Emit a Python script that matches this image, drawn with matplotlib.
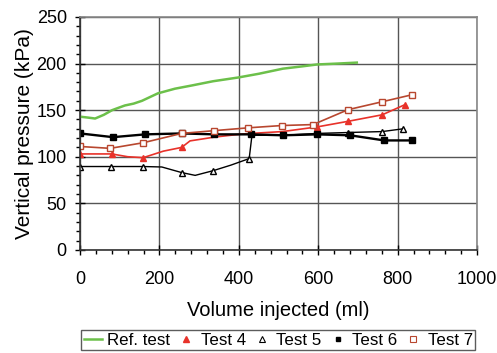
import matplotlib.pyplot as plt
from matplotlib.ticker import MultipleLocator
from matplotlib.lines import Line2D

plt.rcParams['font.family'] = ['Liberation Sans', 'DejaVu Sans']

# Ref. test (green line, no markers)
ref_vol = [0, 20, 38, 60, 81, 100, 113, 135, 156, 196, 239, 282, 335, 398, 450, 511, 560, 597, 650, 697]
ref_p = [143, 142, 141, 145, 150, 153, 155, 157, 160, 168, 173, 176.5, 181, 185, 189, 194.5, 197, 199, 200, 201]

# Test 4 (red filled triangles)
t4_vol = [0, 80, 120, 159, 210, 256, 277, 315, 337, 400, 430, 510, 597, 675, 761, 819]
t4_p = [103, 103, 100, 99, 106, 110, 117, 119.5, 121, 124, 125, 127, 132, 138, 145, 156]
t4_marks = [0, 1, 3, 5, 12, 13, 14, 15]

# Test 5 (open triangles)
t5_vol = [0, 78, 159, 206, 256, 290, 335, 380, 426, 433, 470, 511, 597, 675, 761, 814]
t5_p = [89.5, 89.5, 89.5, 89, 83, 80, 85, 91, 98, 123, 123, 123, 125, 126, 127, 130]
t5_marks = [0, 1, 2, 4, 6, 8, 13, 14, 15]

# Test 6 (black filled squares)
t6_vol = [0, 83, 164, 256, 338, 430, 511, 597, 680, 766, 836]
t6_p = [125, 121, 124, 125, 124, 124, 123, 124, 123, 117.5, 117.5]

# Test 7 (open squares)
t7_vol = [0, 76, 159, 256, 338, 423, 509, 587, 675, 761, 836]
t7_p = [111, 109, 115, 125, 128, 131, 133.5, 134.5, 150.5, 159, 166.5]

green = '#6cc04a'
red = '#e8322a'
brown = '#b8472f'

fig = plt.figure(figsize=(4.97, 3.53), dpi=100)
ax = fig.add_axes([0.161, 0.292, 0.799, 0.660])

ax.plot(ref_vol, ref_p, color=green, lw=1.8)
ax.plot(t4_vol, t4_p, color=red, lw=1.2, marker='^', ms=5,
        markevery=t4_marks)
ax.plot(t5_vol, t5_p, color='black', lw=1.0, marker='^', ms=5, mfc='white',
        markevery=t5_marks)
ax.plot(t6_vol, t6_p, color='black', lw=1.7, marker='s', ms=4.5)
ax.plot(t7_vol, t7_p, color=brown, lw=1.2, marker='s', ms=5, mfc='white')

ax.set_xlim(0, 1000)
ax.set_ylim(0, 250)
ax.xaxis.set_major_locator(MultipleLocator(200))
ax.xaxis.set_minor_locator(MultipleLocator(40))
ax.yaxis.set_major_locator(MultipleLocator(50))
ax.yaxis.set_minor_locator(MultipleLocator(10))
ax.grid(True, which='major', color='#555555', lw=1.0)
ax.tick_params(which='major', direction='inout', length=7, width=1, labelsize=13)
ax.tick_params(axis='x', which='major', pad=12)
ax.tick_params(axis='y', which='major', pad=6)
ax.tick_params(which='minor', direction='out', length=3, width=1)
for s in ['left', 'bottom']:
    ax.spines[s].set_color('#333333')
    ax.spines[s].set_linewidth(1.2)
for s in ['top', 'right']:
    ax.spines[s].set_color('#888888')
    ax.spines[s].set_linewidth(1.2)

ax.set_xlabel('Volume injected (ml)', fontsize=14.5, labelpad=9)
ax.set_ylabel('Vertical pressure (kPa)', fontsize=15, labelpad=2)

# legend: line for the reference test, markers only for the others
handles = [
    Line2D([], [], color=green, lw=1.8),
    Line2D([], [], color=red, ls='none', marker='^', ms=4),
    Line2D([], [], color='black', ls='none', marker='^', ms=4, mfc='white', mew=0.8),
    Line2D([], [], color='black', ls='none', marker='s', ms=3.5),
    Line2D([], [], color=brown, ls='none', marker='s', ms=4, mfc='white', mew=0.8),
]
labels = ['Ref. test', 'Test 4', 'Test 5', 'Test 6', 'Test 7']
leg = fig.legend(handles, labels, loc='upper left',
                 bbox_to_anchor=(81 / 497, 1 - 330 / 353), ncol=5,
                 fontsize=12.2, handlelength=1.1, handletextpad=0.3,
                 columnspacing=0.4, borderpad=0.15, borderaxespad=0,
                 fancybox=False, frameon=True)
leg.get_frame().set_edgecolor('#333333')
leg.get_frame().set_linewidth(1.0)

fig.savefig('out.png', dpi=100)
